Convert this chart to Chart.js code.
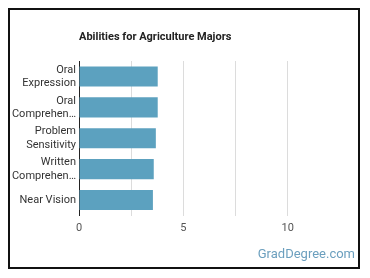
<!DOCTYPE html>
<html>
<head>
<meta charset="utf-8">
<script src="https://cdn.jsdelivr.net/npm/chart.js@4"></script>
<style>
  html, body { margin: 0; padding: 0; background: #fff; }
  #wrap { position: relative; width: 370px; height: 278px; }
  #frame { position: absolute; left: 8px; top: 8px; width: 348px; height: 257px; border: 2px solid #111; pointer-events: none; }
  canvas { position: absolute; left: 0; top: 0; }
</style>
</head>
<body>
<div id="wrap">
  <canvas id="c" width="370" height="278"></canvas>
  <div id="frame"></div>
</div>
<script>
const chartTitle = "Abilities for Agriculture Majors";
const categories = [["Oral", "Expression"], ["Oral", "Comprehen…"], ["Problem", "Sensitivity"], ["Written", "Comprehen…"], "Near Vision"];
const values = [3.77, 3.77, 3.68, 3.58, 3.54];
const tickLabels = [0, 5, 10];
const watermark = "GradDegree.com";

const FONT = "Roboto, 'Noto Sans', sans-serif";

const overlay = {
  id: 'overlay',
  afterDraw(chart) {
    const ctx = chart.ctx;
    const a = chart.chartArea;
    ctx.save();
    ctx.fillStyle = '#222';
    ctx.font = "bold 11px " + FONT;
    ctx.textAlign = 'left';
    ctx.textBaseline = 'middle';
    ctx.fillText(chartTitle, a.left, 37);
    ctx.fillStyle = '#6b9fbe';
    ctx.font = "13px " + FONT;
    ctx.textAlign = 'right';
    ctx.fillText(watermark, 355, 255);
    ctx.restore();
  },
  beforeDraw(chart) {
    const ctx = chart.ctx;
    ctx.save();
    ctx.fillStyle = '#fff';
    ctx.fillRect(0, 0, chart.width, chart.height);
    ctx.restore();
  }
};

new Chart(document.getElementById('c'), {
  type: 'bar',
  data: {
    labels: categories,
    datasets: [{
      data: values,
      backgroundColor: '#5ca1bf',
      borderWidth: 0,
      barPercentage: 0.65,
      categoryPercentage: 1.0
    }]
  },
  options: {
    indexAxis: 'y',
    responsive: false,
    animation: false,
    layout: { padding: { top: 61, right: 30, bottom: 0, left: 0 } },
    plugins: { legend: { display: false }, tooltip: { enabled: false }, title: { display: false } },
    scales: {
      x: {
        min: 0, max: 12.5,
        afterBuildTicks(scale) {
          scale.ticks = [0, 2.5, 5, 7.5, 10, 12.5].map(v => ({ value: v }));
        },
        ticks: {
          color: '#555',
          font: { family: FONT, size: 11 },
          padding: 6,
          callback(v) { return tickLabels.includes(v) ? String(v) : ''; }
        },
        grid: {
          drawTicks: false,
          color(ctx) {
            const v = ctx.tick && ctx.tick.value;
            if (v === 0 || v === 12.5) return 'rgba(0,0,0,0)';
            return '#dcdcdc';
          }
        },
        border: { display: false },
        afterFit(scale) { scale.height = 62.5; }
      },
      y: {
        ticks: {
          color: '#333',
          font: { family: FONT, size: 11 },
          padding: 3,
          autoSkip: false
        },
        grid: { display: false, drawTicks: false },
        border: { display: true, color: '#222', width: 1 },
        afterFit(scale) { scale.width = 79; }
      }
    }
  },
  plugins: [overlay]
});
</script>
</body>
</html>
